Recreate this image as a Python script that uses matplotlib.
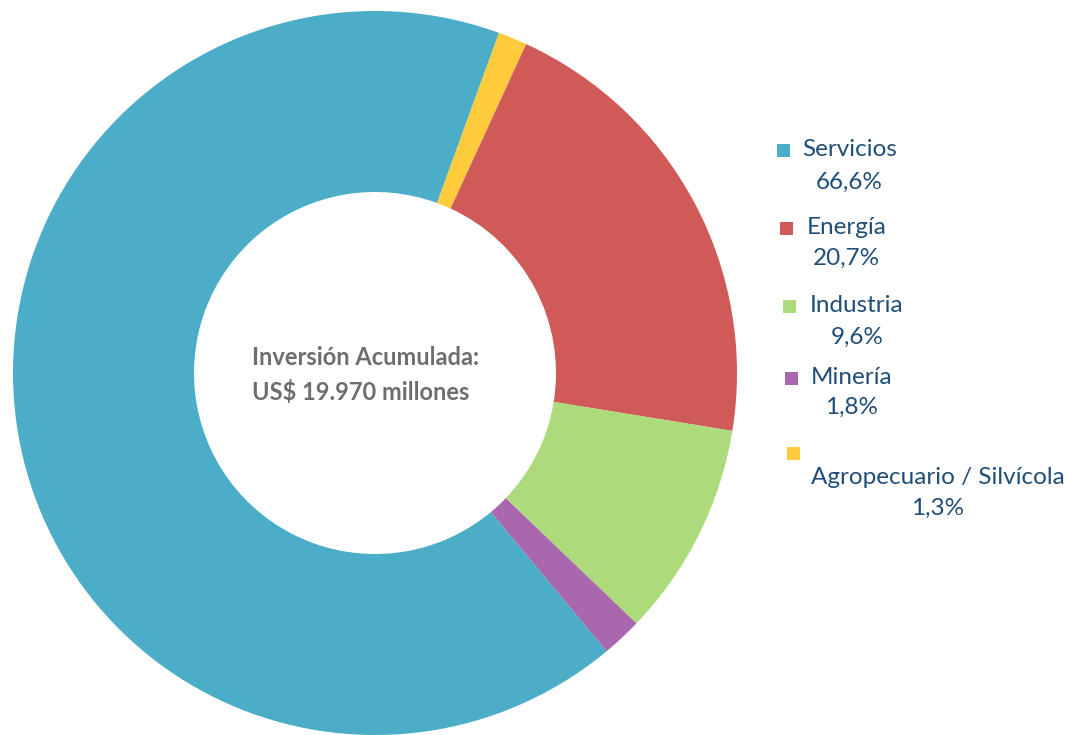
import matplotlib.pyplot as plt
from matplotlib.patches import Rectangle

# data, in clockwise drawing order starting at the yellow slice
sectores = ["Agropecuario / Silvícola", "Energía", "Industria", "Minería", "Servicios"]
porcentajes = [1.3, 20.7, 9.6, 1.8, 66.6]
colores = ["#FDCB3C", "#D05A58", "#ADDB7B", "#A968AD", "#4BADC8"]

# legend order as in the original
orden_leyenda = ["Servicios", "Energía", "Industria", "Minería", "Agropecuario / Silvícola"]

titulo_centro = "Inversión Acumulada:\nUS$ 19.970 millones"

plt.rcParams['font.family'] = ['Lato', 'DejaVu Sans']

W, H = 1067, 735
fig = plt.figure(figsize=(W / 100, H / 100), dpi=100)

# donut: centre at (375, 373) px, outer radius 362 px
cx, cy, R = 375, 373, 362
ax = fig.add_axes([(cx - R) / W, (H - cy - R) / H, 2 * R / W, 2 * R / H])
ax.pie(porcentajes, colors=colores, startangle=70, counterclock=False,
       radius=1, wedgeprops=dict(width=0.5, linewidth=0))
ax.set_xlim(-1, 1)
ax.set_ylim(-1, 1)
ax.set_aspect('auto')
ax.axis('off')

def px(x, y):
    # pixel position (from top-left) -> figure fraction
    return x / W, (H - y) / H

fig.text(*px(252, 375), titulo_centro, ha='left', va='center', fontsize=17,
         fontweight='bold', color='#6E6E6E', linespacing=1.55)

# legend drawn by hand: square + label, percentage centred below the label
color_txt = '#1F4E79'
fs = 17.5
sq = 13
y_lab = [149, 227, 305, 377]
y_pct = [182, 258, 337, 407]
x_sq = [777, 780, 783, 785]
x_lab = [802, 807, 810, 811]

renderer = fig.canvas.get_renderer()
for i, nombre in enumerate(orden_leyenda[:4]):
    k = sectores.index(nombre)
    fig.add_artist(Rectangle(px(x_sq[i], y_lab[i] + sq / 2 + 1), sq / W, sq / H,
                             transform=fig.transFigure, color=colores[k], lw=0))
    t = fig.text(*px(x_lab[i], y_lab[i]), nombre, ha='left', va='center',
                 fontsize=fs, color=color_txt)
    bb = t.get_window_extent(renderer)
    xc = (bb.x0 + bb.x1) / 2 / W
    fig.text(xc, px(0, y_pct[i])[1], f"{porcentajes[k]:.1f}%".replace('.', ','),
             ha='center', va='center', fontsize=fs, color=color_txt)

# last entry: square on its own line, text on the next lines
nombre = orden_leyenda[4]
k = sectores.index(nombre)
fig.add_artist(Rectangle(px(787, 460), sq / W, sq / H,
                         transform=fig.transFigure, color=colores[k], lw=0))
fig.text(*px(938, 478), nombre, ha='center', va='center', fontsize=fs, color=color_txt)
fig.text(*px(938, 508), f"{porcentajes[k]:.1f}%".replace('.', ','),
         ha='center', va='center', fontsize=fs, color=color_txt)

fig.savefig('out.png', dpi=100, facecolor='white')
